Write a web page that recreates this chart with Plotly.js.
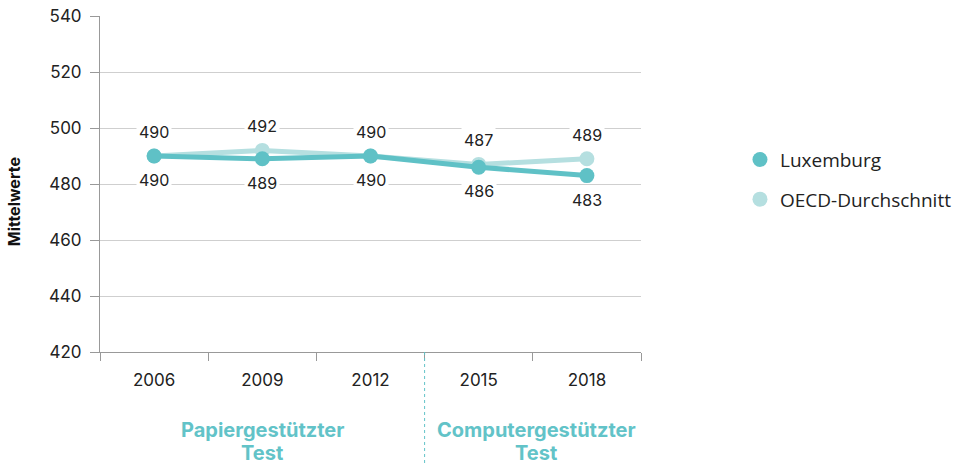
<!DOCTYPE html>
<html>
<head>
<meta charset="utf-8">
<script src="https://cdn.plot.ly/plotly-3.0.1.min.js"></script>
<style>html,body{margin:0;padding:0;background:#fff;}#chart{width:961px;height:464px;}</style>
</head>
<body>
<div id="chart"></div>
<script>
const years = ['2006', '2009', '2012', '2015', '2018'];
const luxemburg = [490, 489, 490, 486, 483];
const oecd = [490, 492, 490, 487, 489];
const seriesNames = ['Luxemburg', 'OECD-Durchschnitt'];
const phaseLabels = [['Papiergestützter', 'Test'], ['Computergestützter', 'Test']];
const yTicks = [420, 440, 460, 480, 500, 520, 540];

const cLux = '#5FC1C6';
const cOecd = '#B5DFE0';
const font = '"Open Sans", "Noto Sans", sans-serif';
const numFont = 'Inter, "Open Sans", sans-serif';

const traces = [
  {x: years, y: oecd, type: 'scatter', mode: 'lines+markers', showlegend: false,
   line: {color: cOecd, width: 5}, marker: {color: cOecd, size: 15}, hoverinfo: 'skip'},
  {x: years, y: luxemburg, type: 'scatter', mode: 'lines+markers', showlegend: false,
   line: {color: cLux, width: 5}, marker: {color: cLux, size: 15}, hoverinfo: 'skip'},
  {x: [null], y: [null], type: 'scatter', mode: 'markers', name: seriesNames[0], legendgroup: 'a',
   marker: {color: cLux, size: 15}},
  {x: [null], y: [null], type: 'scatter', mode: 'markers', name: seriesNames[1], legendgroup: 'b',
   marker: {color: cOecd, size: 15}}
];

const annotations = [];
years.forEach((yr, i) => {
  annotations.push({x: i, y: oecd[i], xref: 'x', yref: 'y', text: String(oecd[i]), showarrow: false,
    yshift: 24, bgcolor: '#fff', borderpad: 2, font: {family: numFont, size: 16, color: '#222'}});
  annotations.push({x: i, y: luxemburg[i], xref: 'x', yref: 'y', text: String(luxemburg[i]), showarrow: false,
    yshift: -24, bgcolor: '#fff', borderpad: 2, font: {family: numFont, size: 16, color: '#222'}});
});
const phaseX = [1, 3.53];
const lineY = [-0.232, -0.30];
phaseLabels.forEach((lines, p) => {
  lines.forEach((t, k) => {
    annotations.push({x: phaseX[p], y: lineY[k], xref: 'x', yref: 'paper', text: '<b>' + t + '</b>',
      showarrow: false, yanchor: 'middle', font: {family: numFont, size: 20, color: '#62C3C8'}});
  });
});
annotations.push({x: 0, xshift: -86, y: 0.446, xref: 'paper', yref: 'paper', text: '<b>Mittelwerte</b>', showarrow: false,
  xanchor: 'center', yanchor: 'middle',
  textangle: -90, font: {family: numFont, size: 16, color: '#111'}});

const layout = {
  width: 961, height: 464,
  margin: {l: 100, r: 320, t: 16, b: 112, autoexpand: false},
  paper_bgcolor: '#fff', plot_bgcolor: '#fff',
  font: {family: font, size: 16, color: '#222'},
  xaxis: {type: 'category', range: [-0.5, 4.5], tickson: 'boundaries', ticks: 'outside', ticklen: 8,
    tickcolor: '#999', showline: true, linecolor: '#999', linewidth: 1, showgrid: false,
    ticklabelstandoff: 13, tickfont: {family: numFont, size: 17, color: '#222'}, fixedrange: true},
  yaxis: {range: [420, 540], tickvals: yTicks, ticks: 'outside', ticklen: 9, tickcolor: '#999',
    showline: true, linecolor: '#999', linewidth: 1, gridcolor: '#cfcfcf', gridwidth: 1,
    ticklabelstandoff: 5,
    zeroline: false, tickfont: {family: numFont, size: 17, color: '#222'}, fixedrange: true},
  shapes: [{type: 'line', xref: 'x', yref: 'paper', x0: 2.5, x1: 2.5, y0: 0, y1: -0.34,
    line: {color: '#62C3C8', width: 1, dash: '3px,3px'}}],
  legend: {xref: 'container', yref: 'container', x: 0.77, y: 0.697, xanchor: 'left', yanchor: 'top',
    tracegroupgap: 12,
    font: {family: font, size: 19, color: '#222'}, bgcolor: 'rgba(0,0,0,0)'},
  annotations: annotations,
  showlegend: true
};

Plotly.newPlot('chart', traces, layout, {displayModeBar: false, staticPlot: true});
</script>
</body>
</html>
